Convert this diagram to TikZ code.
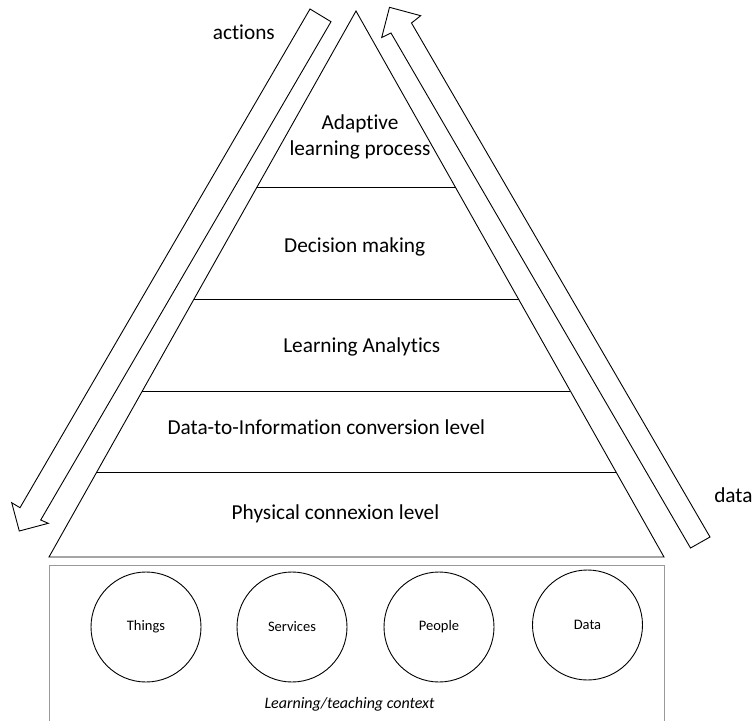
\documentclass[tikz,border=0pt]{standalone}
\usepackage{fontspec}
\setmainfont{Carlito}[Ligatures={NoCommon}]
\newcommand{\lvsz}{\fontsize{21.3}{26}\selectfont}
\newcommand{\tnsz}{\fontsize{14.5}{17}\selectfont}
\newcommand{\ctxsz}{\fontsize{16}{19}\selectfont}

\begin{document}
\begin{tikzpicture}[x=1pt,y=-1pt,line width=0.9pt,line join=miter,
   lvl/.style={anchor=base,font=\lvsz},
   spot/.style={draw,circle,minimum size=110pt,inner sep=0pt,font=\tnsz}]
   \useasboundingbox (0,0) rectangle (753,721);
   % pyramid and its levels
   \draw (49,557) -- (664,557) -- (356,11) -- cycle;
   \draw (257.0,187) -- (455.3,187);
   \draw (194.1,299) -- (518.5,299);
   \draw (142.3,391) -- (570.4,391);
   \draw ( 96.8,472) -- (616.0,472);
   % block arrows
   \draw (310,9) -- (20,507.7) -- (11.7,502.7) -- (19.3,531)
    -- (48.3,523.3) -- (40.7,520) -- (331,21.7) -- cycle;
   \draw (389.5,7.3) -- (420.7,15.7) -- (411.5,23) -- (710,537)
    -- (690.5,548) -- (391,33) -- (381.7,37.5) -- cycle;
   % context box
   \draw[black!40] (49,721) -- (49,565) -- (664,565) -- (664,721);
   \node[spot] (things)   at (146,627)   {Things};
   \node[spot] (services) at (292,627)   {Services};
   \node[spot] (people)   at (439,627)   {People};
   \node[spot] (data)     at (587.5,625) {Data};
   \node[anchor=base,font=\ctxsz\itshape] (context) at (349.5,708) {Learning/teaching context};
   % level texts
   \node[lvl,align=center] (adaptive) at (360,155) {Adaptive\\learning process};
   \node[lvl] (decision)   at (354.7,252) {Decision making};
   \node[lvl] (analytics)  at (361.8,352) {Learning Analytics};
   \node[lvl] (conversion) at (326.3,434) {Data-to-Information conversion level};
   \node[lvl] (physical)   at (335.5,519) {Physical connexion level};
   \node[lvl] (actions)    at (243.8,39)  {actions};
   \node[lvl] (datalabel)  at (733.4,502) {data};
\end{tikzpicture}
\end{document}
